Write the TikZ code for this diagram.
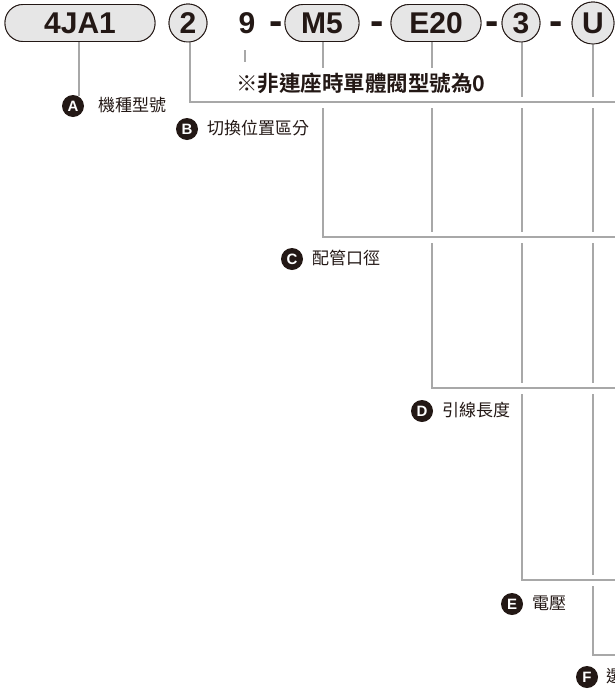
\documentclass[tikz,border=0pt]{standalone}
\usepackage{fontspec}
\setmainfont{Liberation Sans}
\newfontfamily\cjk{Noto Sans CJK TC}
\newfontfamily\cjkbold{Noto Sans CJK TC Bold}
\definecolor{ink}{HTML}{231815}
\definecolor{pillfill}{HTML}{E6E6E6}
\definecolor{linegray}{HTML}{A8A8A8}
\tikzset{
  codepill/.style={draw=ink, line width=0.9pt, fill=pillfill, rounded corners=18pt,
    minimum height=37pt, inner sep=0pt, text=ink, font=\fontsize{30}{30}\selectfont\bfseries},
  codecirc/.style={draw=ink, line width=0.9pt, fill=pillfill, circle,
    minimum size=38pt, inner sep=0pt, text=ink, font=\fontsize{30}{30}\selectfont\bfseries},
  codetxt/.style={inner sep=0pt, text=ink, font=\fontsize{30}{30}\selectfont\bfseries},
  dashtxt/.style={inner sep=0pt, anchor=base, text=ink, font=\fontsize{40}{40}\selectfont\bfseries},
  leader/.style={draw=linegray, line width=2pt, preaction={draw=white, line width=11pt}},
  plainlead/.style={draw=linegray, line width=2pt},
  badge/.style={circle, fill=ink, minimum size=22pt, inner sep=0pt, text=white,
    font=\fontsize{15}{15}\selectfont\bfseries},
  labeltxt/.style={anchor=west, inner sep=0pt, text=ink, font=\cjk\fontsize{17}{17}\selectfont},
}
\begin{document}
\begin{tikzpicture}[x=1pt,y=-1pt]
\useasboundingbox (0,0) rectangle (614,691);
% corner coordinates
\coordinate (cA) at (79,96);
\coordinate (cB) at (190,102);
\coordinate (eB) at (620,102);
\coordinate (cC) at (323,237);
\coordinate (eC) at (620,237);
\coordinate (cD) at (432,388);
\coordinate (eD) at (620,388);
\coordinate (cE) at (522,580);
\coordinate (eE) at (620,580);
\coordinate (cF) at (593,655);
\coordinate (eF) at (620,655);
\coordinate (t9a) at (245,50);
\coordinate (t9b) at (245,62);
% top code row (positions only, drawn later)
\path (80,23) node[codepill, minimum width=150pt] (p1) {}
      (188,23) node[codecirc] (p2) {}
      (322,23) node[codepill, minimum width=74pt] (p3) {}
      (436,23) node[codepill, minimum width=90pt] (p4) {}
      (521,23) node[codecirc] (p5) {}
      (593,23) node[codecirc, minimum size=42pt] (p6) {};
% leaders, deepest first
\draw[leader] (p6.south -| cF) -- (cF) -- (eF);
\draw[leader] (p5.south -| cE) -- (cE) -- (eE);
\draw[leader] (p4.south -| cD) -- (cD) -- (eD);
\draw[leader] (p3.south -| cC) -- (cC) -- (eC);
\draw[leader] (p2.south -| cB) -- (cB) -- (eB);
\draw[plainlead] (p1.south -| cA) -- (cA);
\draw[plainlead] (t9a) -- (t9b);
% note
\node[fill=white, inner xsep=2pt, minimum height=31pt, text=ink,
  font=\cjkbold\fontsize{21.5}{21.5}\selectfont] (note) at (361,83) {※非連座時單體閥型號為0};
% code row
\node[codepill, minimum width=150pt] (q1) at (80,23) {4JA1};
\node[codecirc] (q2) at (188,23) {2};
\node[codetxt] (n9) at (247,23) {9};
\node[dashtxt] (d1) at (276,34) {-};
\node[codepill, minimum width=74pt] (q3) at (322,23) {M5};
\node[dashtxt] (d2) at (377,34) {-};
\node[codepill, minimum width=90pt] (q4) at (436,23) {E20};
\node[dashtxt] (d3) at (492,34) {-};
\node[codecirc] (q5) at (521,23) {3};
\node[dashtxt] (d4) at (556,34) {-};
\node[codecirc, minimum size=42pt] (q6) at (593,23) {U};
% labels
\node[badge] (bA) at (73,106) {A};
\node[labeltxt] (lA) at (98,105) {機種型號};
\node[badge] (bB) at (187,129) {B};
\node[labeltxt] (lB) at (207,128) {切換位置區分};
\node[badge] (bC) at (292,259) {C};
\node[labeltxt] (lC) at (312,258) {配管口徑};
\node[badge] (bD) at (422,411) {D};
\node[labeltxt] (lD) at (442,410) {引線長度};
\node[badge] (bE) at (512,604) {E};
\node[labeltxt] (lE) at (532,603) {電壓};
\node[badge] (bF) at (587,677) {F};
\begin{scope}
\clip (0,0) rectangle (614,691);
\node[labeltxt] (lF) at (606,676) {選};
\end{scope}
\end{tikzpicture}
\end{document}
